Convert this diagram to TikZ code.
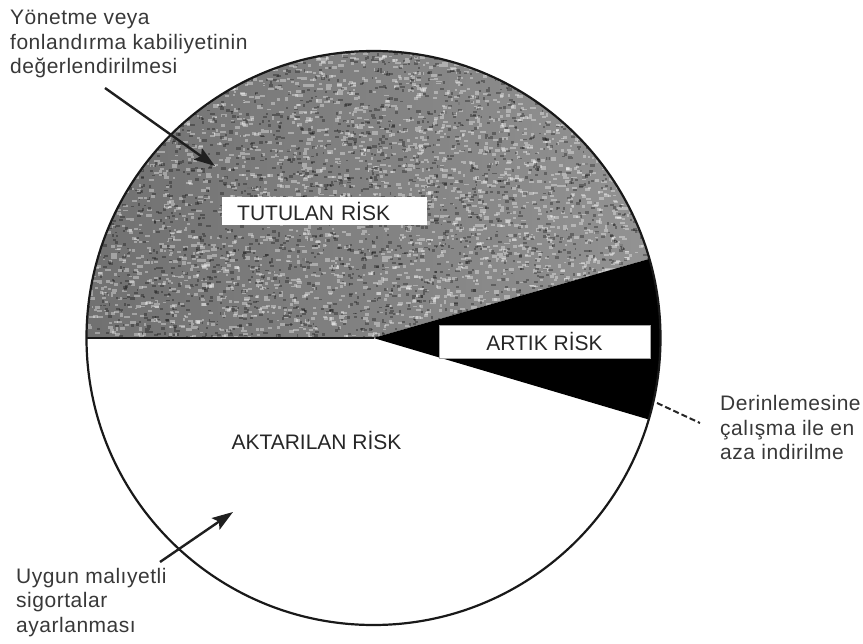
\documentclass[tikz,border=0pt]{standalone}
\usepackage{fontspec}
\setmainfont{Liberation Sans}
\newfontfamily\notefont[LetterSpace=2.5]{Liberation Sans}
\usetikzlibrary{arrows.meta}

\tikzset{
  lbl/.style={inner sep=0pt, align=left, text=black!78,
    font=\notefont\fontsize{21}{24.6}\selectfont},
  risklbl/.style={inner sep=0pt, text=black!85, font=\fontsize{21}{24}\selectfont},
  riskbox/.style={fill=white, inner ysep=0pt, text=black!85,
    font=\fontsize{21}{24}\selectfont},
  rim/.style={draw=black!90, line width=2.2pt},
  pointer/.style={line width=2.4pt, black!88,
    -{Stealth[length=21pt, width=14pt, inset=4pt]}},
  leader/.style={line width=2pt, black!85, dash pattern=on 6pt off 3pt},
  speckL/.style={fill=white, opacity=0.35},
  speckD/.style={fill=black, opacity=0.3},
}

\begin{document}
\begin{tikzpicture}[x=1pt, y=1pt]
\useasboundingbox (0,0) rectangle (863,-644);

% pie geometry
\coordinate (C) at (373.5,-338);
\def\R{287}

% retained risk: stippled grey upper half
\begin{scope}
  \clip (C) -- ++(16:\R) arc[start angle=16, end angle=180, radius=\R] -- cycle;
  \shade[left color=black!56, right color=black!42] (80,-40) rectangle (670,-345);
  \pgfmathsetseed{4711}
  \foreach \i in {1,...,3200}{
    \fill[speckL] ({87+573*rnd},{-48-292*rnd}) rectangle ++({2+4*rnd},{-1.5-2*rnd});
  }
  \foreach \i in {1,...,2800}{
    \fill[speckD] ({87+573*rnd},{-48-292*rnd}) rectangle ++({1.5+3*rnd},{-1.5-1.5*rnd});
  }
\end{scope}

% residual risk: black wedge
\fill[black] (C) -- ++(-16.5:\R) arc[start angle=-16.5, end angle=16, radius=\R] -- cycle;

% outline and dividing radius
\draw[rim] (C) circle[radius=\R];
\draw[line width=1.8pt, black!90] (C) -- ++(180:\R);

% labels inside the pie
\node[riskbox, anchor=west, inner xsep=15pt, minimum height=28pt,
      text width=175pt, align=left] (tutulan) at (222,-211) {TUTULAN RİSK};
\node[riskbox, draw=black!35, line width=0.8pt, minimum width=211pt,
      minimum height=33pt] (artik) at (544.5,-341.5) {ARTIK RİSK};
\node[risklbl] (aktarilan) at (316.5,-440) {AKTARILAN RİSK};

% outside notes (base = baseline of the last line)
\node[lbl, anchor=base west] (noteA) at (10,-74)
  {Yönetme veya\\fonlandırma kabiliyetinin\\değerlendirilmesi};
\node[lbl, anchor=base west] (noteB) at (720,-460)
  {Derinlemesine\\çalışma ile en\\aza indirilme};
\node[lbl, anchor=base west] (noteC) at (16,-632.5)
  {Uygun malıyetli\\sigortalar\\ayarlanması};

% connectors
\coordinate (a0) at (105,-88);
\coordinate (a1) at (215,-166);
\draw[pointer] (a0) -- (a1);

\coordinate (b0) at (657,-403);
\coordinate (b1) at (700,-423);
\draw[leader] (b0) -- (b1);

\coordinate (c0) at (160,-562);
\coordinate (c1) at (233,-512);
\draw[pointer] (c0) -- (c1);
\end{tikzpicture}
\end{document}
